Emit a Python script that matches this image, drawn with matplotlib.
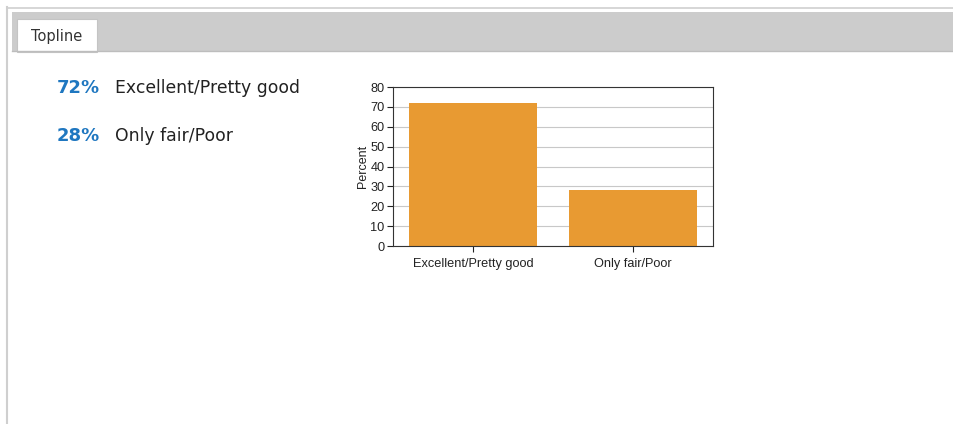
import matplotlib
matplotlib.use("Agg")
from matplotlib import pyplot as plt
from matplotlib.patches import Rectangle

categories = ["Excellent/Pretty good", "Only fair/Poor"]
values = [72, 28]
pct_labels = ["72%", "28%"]
yticks = [0, 10, 20, 30, 40, 50, 60, 70, 80]

W, H = 954, 424
fig = plt.figure(figsize=(W / 100, H / 100), dpi=100)

# page frame drawn in pixel coords on a background axes
bg = fig.add_axes([0, 0, 1, 1])
bg.set_xlim(0, W)
bg.set_ylim(H, 0)
bg.axis("off")
bg.plot([7, W], [7.5, 7.5], color="#cfcfcf", lw=1.2)
bg.plot([7.5, 7.5], [7, H], color="#cfcfcf", lw=1.5)
bg.add_patch(Rectangle((12, 12), W - 12, 40, facecolor="#cccccc", edgecolor="none"))
bg.plot([12, W], [51, 51], color="#bdbdbd", lw=1)
bg.add_patch(Rectangle((17, 19), 80, 33, facecolor="white", edgecolor="#c4c4c4", lw=0.8))
bg.text(57, 36, "Topline", ha="center", va="center", fontsize=10.5, color="#333333",
        family="DejaVu Sans")

# topline summary
for i, (p, c) in enumerate(zip(pct_labels, categories)):
    y = 88 + i * 48
    bg.text(100, y, p, ha="right", va="center", fontsize=13, fontweight="bold",
            color="#1f77c0", family="DejaVu Sans")
    bg.text(115, y, c, ha="left", va="center", fontsize=12.4, color="#222222",
            family="DejaVu Sans")

# bar chart
ax = fig.add_axes([393 / W, 1 - 246 / H, 320 / W, 159 / H])
ax.bar(range(len(values)), values, width=0.8, color="#e89a32", zorder=2)
ax.set_xlim(-0.5, 1.5)
ax.set_ylim(0, 80)
ax.set_yticks(yticks)
ax.set_xticks(range(len(categories)))
ax.set_xticklabels(categories)
ax.yaxis.grid(True, color="#c8c8c8", lw=0.8, zorder=0)
ax.set_axisbelow(True)
for s in ax.spines.values():
    s.set_color("#333333")
    s.set_linewidth(0.8)
ax.tick_params(labelsize=9.2, length=4, width=0.8, colors="#222222", pad=2)
ax.tick_params(axis="x", pad=5)
ax.set_ylabel("Percent", fontsize=9, color="#222222", labelpad=1)
for t in ax.get_xticklabels() + ax.get_yticklabels():
    t.set_family("Liberation Sans")
ax.yaxis.label.set_family("Liberation Sans")

fig.savefig("out.png", dpi=100)
